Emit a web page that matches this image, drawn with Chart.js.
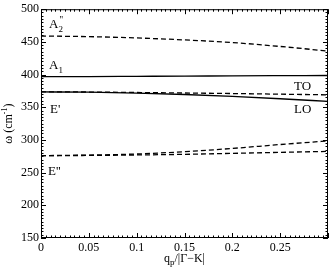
<!DOCTYPE html>
<html>
<head>
<meta charset="utf-8">
<script src="https://cdn.jsdelivr.net/npm/chart.js@4/dist/chart.umd.min.js"></script>
<style>
  html, body { margin: 0; padding: 0; background: #fff; }
  #wrap { width: 332px; height: 272px; }
</style>
</head>
<body>
<div id="wrap"><canvas id="myChart" width="332" height="272"></canvas></div>
<script>
  // q_p / |Gamma-K|
  const qValues = [0, 0.05, 0.1, 0.15, 0.2, 0.25, 0.3];

  // phonon branches (cm^-1)
  const a2Values  = [459, 458, 456, 453, 449, 443, 436];
  const a1Values  = [397, 397, 397.3, 397.6, 398, 398.3, 398.6];
  const toValues  = [373.5, 373.3, 372.6, 371.8, 371, 370, 369];
  const loValues  = [373.5, 373, 371.5, 369.5, 366.5, 363, 359];
  const e2UpValues  = [276, 276.8, 278.5, 282, 287, 293, 298.5];
  const e2LowValues = [276, 276.3, 277, 278, 279.5, 281, 282.5];

  const xTicks = [0, 0.05, 0.1, 0.15, 0.2, 0.25];
  const yTicks = [150, 200, 250, 300, 350, 400, 450, 500];

  const serif = '"Liberation Serif", "DejaVu Serif", serif';

  function pts(ys) {
    return qValues.map((q, i) => ({ x: q, y: ys[i] }));
  }

  function branch(ys, dashed) {
    return {
      data: pts(ys),
      borderColor: '#000',
      borderWidth: 1.3,
      borderDash: dashed ? [5, 3] : [],
      pointRadius: 0,
      fill: false,
      cubicInterpolationMode: 'monotone'
    };
  }

  // frame, inward ticks, axis titles and branch labels
  const decor = {
    id: 'decor',
    afterDraw(chart) {
      const c = chart.ctx;
      const a = chart.chartArea;
      const xs = chart.scales.x, ys = chart.scales.y;
      c.save();
      c.strokeStyle = '#000';
      c.lineWidth = 1;
      c.strokeRect(a.left + 0.5, a.top + 0.5, a.right - a.left - 1, a.bottom - a.top - 1);

      c.beginPath();
      for (let i = 0; i <= 60; i++) {
        const v = i * 0.005;
        const px = Math.round(xs.getPixelForValue(v)) + 0.5;
        const len = (i % 10 === 0) ? 5 : 2.5;
        c.moveTo(px, a.bottom); c.lineTo(px, a.bottom - len);
        c.moveTo(px, a.top); c.lineTo(px, a.top + len);
      }
      for (let v = 150; v <= 500; v += 5) {
        const py = Math.round(ys.getPixelForValue(v)) + 0.5;
        const len = (v % 50 === 0) ? 5 : 2.5;
        c.moveTo(a.left, py); c.lineTo(a.left + len, py);
        c.moveTo(a.right, py); c.lineTo(a.right - len, py);
      }
      c.stroke();

      c.fillStyle = '#000';
      c.textBaseline = 'alphabetic';
      c.textAlign = 'left';

      function txt(s, x, y, size) {
        c.font = size + 'px ' + serif;
        c.fillText(s, x, y);
        return x + c.measureText(s).width;
      }

      // branch labels
      let x = txt('A', 49, 28, 13);
      txt('2', x, 32, 9);
      txt("''", x + 1, 23, 10);
      x = txt('A', 49, 69, 13);
      txt('1', x, 73, 9);
      txt("E'", 50, 113, 13);
      txt("E''", 48, 175, 13);
      txt('TO', 294, 90, 13);
      txt('LO', 294, 113, 13);

      // x title
      c.font = '12px ' + serif;
      const w1 = c.measureText('q').width;
      c.font = '9px ' + serif;
      const w2 = c.measureText('p').width;
      c.font = '12px ' + serif;
      const w3 = c.measureText('/|Γ−K|').width;
      let tx = (a.left + a.right) / 2 - (w1 + w2 + w3) / 2;
      tx = txt('q', tx, 262, 12);
      tx = txt('p', tx, 265, 9);
      txt('/|Γ−K|', tx, 262, 12);

      // y title
      c.translate(12, (a.top + a.bottom) / 2);
      c.rotate(-Math.PI / 2);
      c.font = '12px ' + serif;
      const s1 = 'ω (cm', s3 = ')';
      const m1 = c.measureText(s1).width, m3 = c.measureText(s3).width;
      c.font = '8px ' + serif;
      const m2 = c.measureText('-1').width;
      let ty = -(m1 + m2 + m3) / 2;
      ty = txt(s1, ty, 0, 12);
      ty = txt('-1', ty, -5, 8);
      txt(s3, ty, 0, 12);
      c.restore();
    }
  };

  const ctx = document.getElementById('myChart');
  new Chart(ctx, {
    type: 'line',
    data: {
      datasets: [
        branch(a2Values, true),
        branch(a1Values, false),
        branch(toValues, true),
        branch(loValues, false),
        branch(e2UpValues, true),
        branch(e2LowValues, true)
      ]
    },
    options: {
      responsive: false,
      animation: false,
      layout: { padding: { top: 7, right: 4, left: 0, bottom: 0 } },
      plugins: { legend: { display: false }, tooltip: { enabled: false } },
      scales: {
        x: {
          type: 'linear',
          min: 0,
          max: 0.3,
          afterBuildTicks: s => { s.ticks = xTicks.map(v => ({ value: v })); },
          afterFit: s => { s.height = 34; },
          ticks: {
            color: '#000',
            font: { family: serif, size: 12 },
            padding: 3,
            maxRotation: 0,
            autoSkip: false,
            callback: v => String(Math.round(v * 100) / 100)
          },
          grid: { display: false, drawTicks: false, tickLength: 0 },
          border: { display: false }
        },
        y: {
          min: 150,
          max: 500,
          afterBuildTicks: s => { s.ticks = yTicks.map(v => ({ value: v })); },
          afterFit: s => { s.width = 41; },
          ticks: {
            color: '#000',
            font: { family: serif, size: 12 },
            padding: 2
          },
          grid: { display: false, drawTicks: false, tickLength: 0 },
          border: { display: false }
        }
      }
    },
    plugins: [decor]
  });
</script>
</body>
</html>
